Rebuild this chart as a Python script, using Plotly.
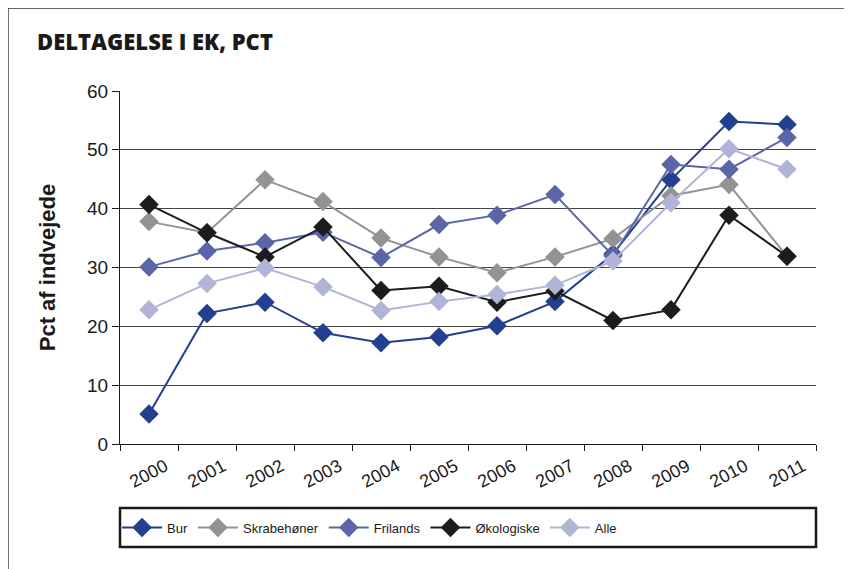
import plotly.graph_objects as go

years = ["2000", "2001", "2002", "2003", "2004", "2005",
         "2006", "2007", "2008", "2009", "2010", "2011"]

bur = [5.1, 22.2, 24.1, 18.9, 17.2, 18.2, 20.1, 24.2, 32.3, 44.9, 54.8, 54.3]
skrabehoner = [37.8, 35.9, 44.9, 41.2, 35.0, 31.8, 29.1, 31.8, 34.9, 42.2, 44.1, 31.9]
frilands = [30.1, 32.8, 34.2, 36.0, 31.7, 37.3, 38.9, 42.4, 32.0, 47.5, 46.7, 52.1]
okologiske = [40.7, 35.9, 31.8, 36.9, 26.1, 26.8, 24.1, 26.0, 21.0, 22.8, 38.9, 31.9]
alle = [22.8, 27.3, 29.9, 26.7, 22.7, 24.2, 25.4, 27.0, 31.1, 41.0, 50.2, 46.7]

series = [
    ("Bur", bur, "#233f8f"),
    ("Skrabehøner", skrabehoner, "#939393"),
    ("Frilands", frilands, "#5b66a9"),
    ("Økologiske", okologiske, "#1c1c1c"),
    ("Alle", alle, "#b1b3d7"),
]

fig = go.Figure()
for name, vals, color in series:
    fig.add_trace(go.Scatter(
        x=years, y=vals, name=name, mode="lines+markers",
        line=dict(color=color, width=2),
        marker=dict(symbol="diamond", size=15, color=color),
    ))

# page body has an 8px margin, so the figure is drawn 8px right/down
fig.update_layout(
    width=852, height=569,
    paper_bgcolor="white", plot_bgcolor="white",
    margin=dict(l=112, r=44, t=83, b=133),
    font=dict(family="Liberation Sans", color="#1a1a1a"),
    showlegend=True,
    legend=dict(
        orientation="h", xref="container", yref="container",
        x=0.128, xanchor="left", y=0.087, yanchor="middle",
        font=dict(size=13), borderwidth=0, itemwidth=40,
        bgcolor="rgba(0,0,0,0)",
    ),
    annotations=[
        dict(text="DELTAGELSE I EK, PCT", xref="paper", yref="paper",
             x=-0.122, y=1.141, xanchor="left", yanchor="middle", showarrow=False,
             font=dict(family="Open Sans", size=22, weight=800, color="#1a1a1a")),
    ],
    shapes=[
        dict(type="line", xref="paper", yref="paper", x0=-0.161, x1=1.1,
             y0=1.235, y1=1.235, line=dict(color="#333", width=1.5)),
        dict(type="line", xref="paper", yref="paper", x0=-0.161, x1=-0.161,
             y0=1.235, y1=-0.4, line=dict(color="#333", width=1.5)),
        dict(type="rect", xref="paper", yref="paper", x0=0, x1=1,
             y0=-0.292, y1=-0.181, line=dict(color="#1a1a1a", width=2.5)),
    ],
)

fig.update_xaxes(
    type="category", tickson="boundaries", ticks="outside", ticklen=6,
    tickcolor="#1a1a1a", showline=True, linecolor="#1a1a1a", linewidth=1,
    showgrid=False, tickangle=-28, tickfont=dict(size=18),
    ticklabelshift=16, ticklabelstandoff=4,
    range=[-0.5, 11.5], automargin=False,
)
fig.update_yaxes(
    range=[0, 60], dtick=10, ticks="outside", ticklen=7, tickcolor="#1a1a1a",
    showline=True, linecolor="#1a1a1a", linewidth=1,
    showgrid=True, gridcolor="#444", gridwidth=1, zeroline=False,
    tickfont=dict(size=19), automargin=False,
    title=dict(text="<b>Pct af indvejede</b>", font=dict(size=22), standoff=25),
)

fig.write_html("out.html")
